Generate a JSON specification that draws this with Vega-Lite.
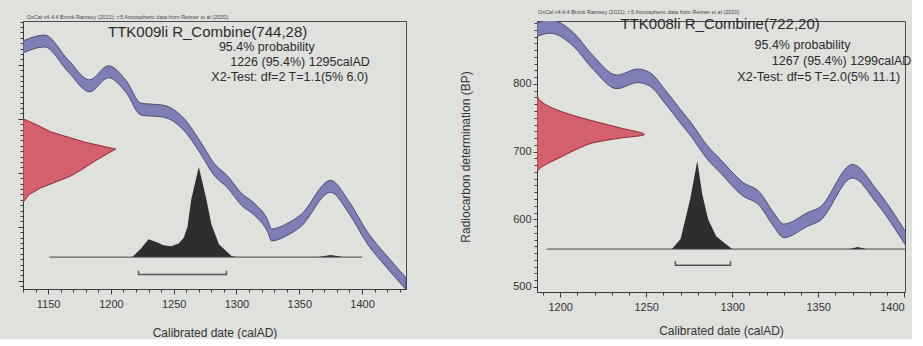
{
  "$schema": "https://vega.github.io/schema/vega-lite/v6.json",
  "background": "#dfe1dc",
  "padding": {"left": 17, "top": 9, "right": 0, "bottom": 0},
  "spacing": 52,
  "config": {
    "font": "Liberation Sans",
    "view": {"stroke": "#4a4a4a", "strokeWidth": 1},
    "axis": {"domainColor": "#3a3a3a", "tickColor": "#3a3a3a", "labelColor": "#333333", "titleColor": "#333333", "labelFont": "Liberation Sans", "titleFont": "Liberation Sans", "labelFontSize": 11, "titleFontSize": 12, "titleFontWeight": "normal", "grid": false}
  },
  "datasets": {
    "leftCurve": [
      {"year": 1130, "hi": 944, "lo": 922}, {"year": 1147, "hi": 955, "lo": 933}, {"year": 1166, "hi": 909, "lo": 887},
      {"year": 1183, "hi": 872, "lo": 850}, {"year": 1198, "hi": 898, "lo": 876}, {"year": 1212, "hi": 871, "lo": 849},
      {"year": 1224, "hi": 829, "lo": 807}, {"year": 1242, "hi": 825, "lo": 803}, {"year": 1258, "hi": 801, "lo": 779},
      {"year": 1272, "hi": 755, "lo": 733}, {"year": 1282, "hi": 718, "lo": 696}, {"year": 1293, "hi": 694, "lo": 672},
      {"year": 1304, "hi": 662, "lo": 640}, {"year": 1314, "hi": 644, "lo": 622}, {"year": 1325, "hi": 612, "lo": 590},
      {"year": 1328, "hi": 596, "lo": 574}, {"year": 1341, "hi": 607, "lo": 585}, {"year": 1351, "hi": 622, "lo": 600},
      {"year": 1375, "hi": 686, "lo": 664}, {"year": 1389, "hi": 649, "lo": 627}, {"year": 1405, "hi": 588, "lo": 566},
      {"year": 1418, "hi": 551, "lo": 529}, {"year": 1435, "hi": 506, "lo": 484}
    ],
    "leftRed": [
      {"bp": 800, "year": 1130}, {"bp": 790, "year": 1140}, {"bp": 776, "year": 1152}, {"bp": 766, "year": 1166},
      {"bp": 757, "year": 1179}, {"bp": 750, "year": 1192}, {"bp": 744, "year": 1204}, {"bp": 735, "year": 1197},
      {"bp": 720, "year": 1186}, {"bp": 705, "year": 1176}, {"bp": 694, "year": 1168}, {"bp": 682, "year": 1155},
      {"bp": 672, "year": 1144}, {"bp": 660, "year": 1135}, {"bp": 645, "year": 1130}
    ],
    "leftDist": [
      {"year": 1217, "bp": 544}, {"year": 1224, "bp": 560}, {"year": 1230, "bp": 577}, {"year": 1236, "bp": 572},
      {"year": 1242, "bp": 566}, {"year": 1248, "bp": 564}, {"year": 1254, "bp": 569}, {"year": 1258, "bp": 580},
      {"year": 1261, "bp": 600}, {"year": 1264, "bp": 651}, {"year": 1270, "bp": 711}, {"year": 1276, "bp": 651},
      {"year": 1280, "bp": 605}, {"year": 1286, "bp": 568}, {"year": 1292, "bp": 555}, {"year": 1296, "bp": 546},
      {"year": 1300, "bp": 544}, {"year": 1365, "bp": 544}, {"year": 1375, "bp": 548}, {"year": 1385, "bp": 544}
    ],
    "leftRange": [
      {"year": 1222, "bp": 519, "k": 0}, {"year": 1222, "bp": 512, "k": 1},
      {"year": 1292, "bp": 512, "k": 2}, {"year": 1292, "bp": 519, "k": 3}
    ],
    "leftNotes": [
      {"label": "95.4% probability", "year": 1286, "bp": 933},
      {"label": "1226 (95.4%) 1295calAD", "year": 1295, "bp": 905},
      {"label": "X2-Test: df=2 T=1.1(5% 6.0)", "year": 1280, "bp": 877}
    ],
    "rightCurve": [
      {"year": 1186.5, "hi": 890, "lo": 870}, {"year": 1194, "hi": 895, "lo": 875}, {"year": 1207.6, "hi": 876, "lo": 856},
      {"year": 1219, "hi": 842, "lo": 822}, {"year": 1233, "hi": 813, "lo": 793}, {"year": 1245, "hi": 822, "lo": 802},
      {"year": 1252, "hi": 817, "lo": 797}, {"year": 1262, "hi": 788, "lo": 768}, {"year": 1270, "hi": 762, "lo": 742},
      {"year": 1276, "hi": 743, "lo": 723}, {"year": 1285.5, "hi": 709, "lo": 689}, {"year": 1293, "hi": 689, "lo": 669},
      {"year": 1306, "hi": 655, "lo": 635}, {"year": 1316, "hi": 640, "lo": 620}, {"year": 1324, "hi": 610, "lo": 590},
      {"year": 1330, "hi": 593, "lo": 573}, {"year": 1344, "hi": 610, "lo": 590}, {"year": 1351, "hi": 618, "lo": 598},
      {"year": 1370, "hi": 681, "lo": 661}, {"year": 1384, "hi": 644, "lo": 624}, {"year": 1401, "hi": 581, "lo": 561}
    ],
    "rightRed": [
      {"bp": 782, "year": 1186.5}, {"bp": 772, "year": 1190}, {"bp": 758, "year": 1202}, {"bp": 744, "year": 1221},
      {"bp": 735, "year": 1235}, {"bp": 725, "year": 1249}, {"bp": 720, "year": 1235}, {"bp": 714, "year": 1221},
      {"bp": 704, "year": 1210}, {"bp": 694, "year": 1202}, {"bp": 684, "year": 1194}, {"bp": 677, "year": 1189},
      {"bp": 670, "year": 1186.5}
    ],
    "rightDist": [
      {"year": 1265, "bp": 556}, {"year": 1270, "bp": 571}, {"year": 1275.6, "bp": 630}, {"year": 1279.7, "bp": 686},
      {"year": 1282.6, "bp": 637}, {"year": 1286, "bp": 600}, {"year": 1290.7, "bp": 575}, {"year": 1296, "bp": 564},
      {"year": 1300, "bp": 556}, {"year": 1368, "bp": 556}, {"year": 1373, "bp": 559}, {"year": 1378, "bp": 556}
    ],
    "rightRange": [
      {"year": 1267, "bp": 538, "k": 0}, {"year": 1267, "bp": 532, "k": 1},
      {"year": 1299, "bp": 532, "k": 2}, {"year": 1299, "bp": 538, "k": 3}
    ],
    "rightNotes": [
      {"label": "95.4% probability", "year": 1313, "bp": 857},
      {"label": "1267 (95.4%) 1299calAD", "year": 1323, "bp": 834},
      {"label": "X2-Test: df=5 T=2.0(5% 11.1)", "year": 1303, "bp": 810}
    ]
  },
  "hconcat": [
    {
      "width": 383,
      "height": 268,
      "resolve": {"axis": {"x": "independent", "y": "independent"}},
      "layer": [
        {
          "data": {"name": "leftRed"},
          "mark": {"type": "area", "orient": "horizontal", "fill": "#d4606e", "stroke": "#8c2a36", "strokeWidth": 1, "clip": true},
          "encoding": {
            "y": {"field": "bp", "type": "quantitative", "scale": {"domain": [485, 981], "nice": false, "zero": false},
                  "axis": {"orient": "left", "values": [500, 600, 700, 800, 900], "labels": false, "tickSize": 5, "title": null}},
            "x": {"field": "year", "type": "quantitative", "scale": {"domain": [1130, 1435], "nice": false, "zero": false},
                  "axis": {"orient": "bottom", "values": [1150, 1200, 1250, 1300, 1350, 1400], "format": "d", "title": "Calibrated date (calAD)", "tickSize": 5, "labelPadding": 4, "titlePadding": 18}},
            "x2": {"datum": 1130}
          }
        },
        {
          "data": {"name": "leftCurve"},
          "mark": {"type": "area", "fill": "#7f7fb8", "stroke": "#4b4b70", "strokeWidth": 1, "clip": true, "interpolate": "monotone"},
          "encoding": {
            "x": {"field": "year", "type": "quantitative", "scale": {"domain": [1130, 1435], "nice": false, "zero": false}, "axis": null},
            "y": {"field": "hi", "type": "quantitative", "scale": {"domain": [485, 981], "nice": false, "zero": false}, "axis": null},
            "y2": {"field": "lo"}
          }
        },
        {
          "data": {"name": "leftDist"},
          "mark": {"type": "area", "fill": "#2e2e2e", "clip": true},
          "encoding": {
            "x": {"field": "year", "type": "quantitative", "scale": {"domain": [1130, 1435], "nice": false, "zero": false}, "axis": null},
            "y": {"field": "bp", "type": "quantitative", "scale": {"domain": [485, 981], "nice": false, "zero": false}, "axis": null},
            "y2": {"datum": 544}
          }
        },
        {
          "data": {"values": [{"from": 1151, "to": 1400, "bp": 544}]},
          "mark": {"type": "rule", "stroke": "#444444", "strokeWidth": 1},
          "encoding": {
            "x": {"field": "from", "type": "quantitative", "scale": {"domain": [1130, 1435], "nice": false, "zero": false}, "axis": null},
            "x2": {"field": "to"},
            "y": {"field": "bp", "type": "quantitative", "scale": {"domain": [485, 981], "nice": false, "zero": false}, "axis": null}
          }
        },
        {
          "data": {"name": "leftRange"},
          "mark": {"type": "line", "stroke": "#555555", "strokeWidth": 1.5},
          "encoding": {
            "x": {"field": "year", "type": "quantitative", "scale": {"domain": [1130, 1435], "nice": false, "zero": false}, "axis": null},
            "y": {"field": "bp", "type": "quantitative", "scale": {"domain": [485, 981], "nice": false, "zero": false}, "axis": null},
            "order": {"field": "k", "type": "quantitative"}
          }
        },
        {
          "data": {"name": "leftNotes"},
          "mark": {"type": "text", "align": "left", "baseline": "middle", "fontSize": 12.5, "fill": "#2b2b2b"},
          "encoding": {
            "x": {"field": "year", "type": "quantitative", "scale": {"domain": [1130, 1435], "nice": false, "zero": false}, "axis": null},
            "y": {"field": "bp", "type": "quantitative", "scale": {"domain": [485, 981], "nice": false, "zero": false}, "axis": null},
            "text": {"field": "label"}
          }
        },
        {
          "data": {"values": [{"label": "TTK009li R_Combine(744,28)", "year": 1277, "bp": 961}]},
          "mark": {"type": "text", "align": "center", "baseline": "middle", "fontSize": 15, "fill": "#2b2b2b"},
          "encoding": {
            "x": {"field": "year", "type": "quantitative", "scale": {"domain": [1130, 1435], "nice": false, "zero": false}, "axis": null},
            "y": {"field": "bp", "type": "quantitative", "scale": {"domain": [485, 981], "nice": false, "zero": false}, "axis": null},
            "text": {"field": "label"}
          }
        },
        {
          "data": {"values": [{"label": "OxCal v4.4.4 Bronk Ramsey (2021); r:5 Atmospheric data from Reimer et al (2020)", "year": 1133, "bp": 988}]},
          "mark": {"type": "text", "align": "left", "baseline": "middle", "fontSize": 5.5, "fill": "#444444"},
          "encoding": {
            "x": {"field": "year", "type": "quantitative", "scale": {"domain": [1130, 1435], "nice": false, "zero": false}, "axis": null},
            "y": {"field": "bp", "type": "quantitative", "scale": {"domain": [485, 981], "nice": false, "zero": false}, "axis": null},
            "text": {"field": "label"}
          }
        },
        {
          "data": {"values": [{"year": 1200, "bp": 700}]},
          "mark": {"type": "point", "opacity": 0},
          "encoding": {
            "x": {"field": "year", "type": "quantitative", "scale": {"domain": [1130, 1435], "nice": false, "zero": false},
                  "axis": {"orient": "bottom", "values": [1130,1140,1150,1160,1170,1180,1190,1200,1210,1220,1230,1240,1250,1260,1270,1280,1290,1300,1310,1320,1330,1340,1350,1360,1370,1380,1390,1400,1410,1420,1430], "labels": false, "domain": false, "tickSize": 3, "title": null}},
            "y": {"field": "bp", "type": "quantitative", "scale": {"domain": [485, 981], "nice": false, "zero": false},
                  "axis": {"orient": "left", "values": [490,500,510,520,530,540,550,560,570,580,590,600,610,620,630,640,650,660,670,680,690,700,710,720,730,740,750,760,770,780,790,800,810,820,830,840,850,860,870,880,890,900,910,920,930,940,950,960,970,980], "labels": false, "domain": false, "tickSize": 3, "title": null}}
          }
        }
      ]
    },
    {
      "width": 368,
      "height": 271,
      "resolve": {"axis": {"x": "independent", "y": "independent"}},
      "layer": [
        {
          "data": {"name": "rightRed"},
          "mark": {"type": "area", "orient": "horizontal", "fill": "#d4606e", "stroke": "#8c2a36", "strokeWidth": 1, "clip": true, "interpolate": "monotone"},
          "encoding": {
            "y": {"field": "bp", "type": "quantitative", "scale": {"domain": [492.6, 893], "nice": false, "zero": false},
                  "axis": {"orient": "left", "values": [500, 600, 700, 800], "format": "d", "title": "Radiocarbon determination (BP)", "tickSize": 4, "labelPadding": 2, "titlePadding": 40}},
            "x": {"field": "year", "type": "quantitative", "scale": {"domain": [1186.5, 1400.5], "nice": false, "zero": false},
                  "axis": {"orient": "bottom", "values": [1200, 1250, 1300, 1350, 1400], "format": "d", "title": "Calibrated date (calAD)", "tickSize": 5, "labelPadding": 4, "titlePadding": 13}},
            "x2": {"datum": 1186.5}
          }
        },
        {
          "data": {"name": "rightCurve"},
          "mark": {"type": "area", "fill": "#7f7fb8", "stroke": "#4b4b70", "strokeWidth": 1, "clip": true, "interpolate": "monotone"},
          "encoding": {
            "x": {"field": "year", "type": "quantitative", "scale": {"domain": [1186.5, 1400.5], "nice": false, "zero": false}, "axis": null},
            "y": {"field": "hi", "type": "quantitative", "scale": {"domain": [492.6, 893], "nice": false, "zero": false}, "axis": null},
            "y2": {"field": "lo"}
          }
        },
        {
          "data": {"name": "rightDist"},
          "mark": {"type": "area", "fill": "#2e2e2e", "clip": true},
          "encoding": {
            "x": {"field": "year", "type": "quantitative", "scale": {"domain": [1186.5, 1400.5], "nice": false, "zero": false}, "axis": null},
            "y": {"field": "bp", "type": "quantitative", "scale": {"domain": [492.6, 893], "nice": false, "zero": false}, "axis": null},
            "y2": {"datum": 556}
          }
        },
        {
          "data": {"values": [{"from": 1192, "to": 1400.5, "bp": 556}]},
          "mark": {"type": "rule", "stroke": "#444444", "strokeWidth": 1},
          "encoding": {
            "x": {"field": "from", "type": "quantitative", "scale": {"domain": [1186.5, 1400.5], "nice": false, "zero": false}, "axis": null},
            "x2": {"field": "to"},
            "y": {"field": "bp", "type": "quantitative", "scale": {"domain": [492.6, 893], "nice": false, "zero": false}, "axis": null}
          }
        },
        {
          "data": {"name": "rightRange"},
          "mark": {"type": "line", "stroke": "#555555", "strokeWidth": 1.5},
          "encoding": {
            "x": {"field": "year", "type": "quantitative", "scale": {"domain": [1186.5, 1400.5], "nice": false, "zero": false}, "axis": null},
            "y": {"field": "bp", "type": "quantitative", "scale": {"domain": [492.6, 893], "nice": false, "zero": false}, "axis": null},
            "order": {"field": "k", "type": "quantitative"}
          }
        },
        {
          "data": {"name": "rightNotes"},
          "mark": {"type": "text", "align": "left", "baseline": "middle", "fontSize": 12.5, "fill": "#2b2b2b"},
          "encoding": {
            "x": {"field": "year", "type": "quantitative", "scale": {"domain": [1186.5, 1400.5], "nice": false, "zero": false}, "axis": null},
            "y": {"field": "bp", "type": "quantitative", "scale": {"domain": [492.6, 893], "nice": false, "zero": false}, "axis": null},
            "text": {"field": "label"}
          }
        },
        {
          "data": {"values": [{"label": "TTK008li R_Combine(722,20)", "year": 1293, "bp": 889}]},
          "mark": {"type": "text", "align": "center", "baseline": "middle", "fontSize": 15, "fill": "#2b2b2b"},
          "encoding": {
            "x": {"field": "year", "type": "quantitative", "scale": {"domain": [1186.5, 1400.5], "nice": false, "zero": false}, "axis": null},
            "y": {"field": "bp", "type": "quantitative", "scale": {"domain": [492.6, 893], "nice": false, "zero": false}, "axis": null},
            "text": {"field": "label"}
          }
        },
        {
          "data": {"values": [{"label": "OxCal v4.4.4 Bronk Ramsey (2021); r:5 Atmospheric data from Reimer et al (2020)", "year": 1187, "bp": 906}]},
          "mark": {"type": "text", "align": "left", "baseline": "middle", "fontSize": 5.5, "fill": "#444444"},
          "encoding": {
            "x": {"field": "year", "type": "quantitative", "scale": {"domain": [1186.5, 1400.5], "nice": false, "zero": false}, "axis": null},
            "y": {"field": "bp", "type": "quantitative", "scale": {"domain": [492.6, 893], "nice": false, "zero": false}, "axis": null},
            "text": {"field": "label"}
          }
        },
        {
          "data": {"values": [{"year": 1300, "bp": 700}]},
          "mark": {"type": "point", "opacity": 0},
          "encoding": {
            "x": {"field": "year", "type": "quantitative", "scale": {"domain": [1186.5, 1400.5], "nice": false, "zero": false},
                  "axis": {"orient": "bottom", "values": [1190,1200,1210,1220,1230,1240,1250,1260,1270,1280,1290,1300,1310,1320,1330,1340,1350,1360,1370,1380,1390,1400], "labels": false, "domain": false, "tickSize": 3, "title": null}},
            "y": {"field": "bp", "type": "quantitative", "scale": {"domain": [492.6, 893], "nice": false, "zero": false},
                  "axis": {"orient": "left", "values": [500,510,520,530,540,550,560,570,580,590,600,610,620,630,640,650,660,670,680,690,700,710,720,730,740,750,760,770,780,790,800,810,820,830,840,850,860,870,880,890], "labels": false, "domain": false, "tickSize": 3, "title": null}}
          }
        }
      ]
    }
  ]
}
